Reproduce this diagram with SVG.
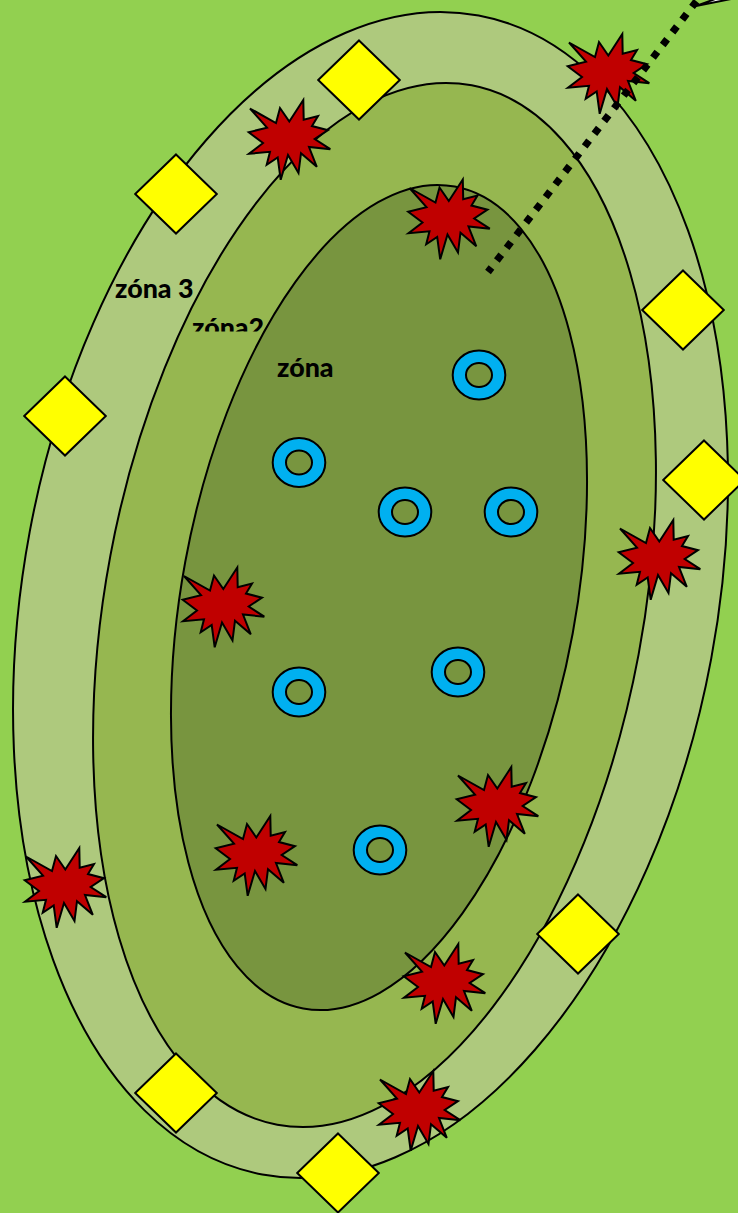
<svg xmlns="http://www.w3.org/2000/svg" width="738" height="1213" viewBox="0 0 738 1213">
<style>
.z{stroke:#000;stroke-width:2}
.star{fill:#C00000;stroke:#000;stroke-width:2;stroke-linejoin:miter}
.dia{fill:#FF0;stroke:#000;stroke-width:2}
.ring{fill:#00B0F0;fill-rule:evenodd;stroke:#000;stroke-width:2}
.t{font-family:Lato,"Open Sans",sans-serif;font-weight:900;font-size:26.800px;fill:#000}
</style>
<defs>
<polygon id="s" points="-39,-31 -13,-16.500 -9,-31.500 0.300,-18 14.300,-39.500 14.700,-19.700 29,-23.500 23,-13.500 39,-9.300 25.700,-0.500 41.300,9.700 20,7.500 27.800,27.300 12,13.700 9.500,33.500 -1,15.500 -8.300,40.300 -11.300,18 -22.300,25.300 -19,12.300 -40,14.300 -26,3.500 -40.300,-7.300 -22,-11.800"/>
<polygon id="d" points="0,-39.500 40.800,0 0,39.500 -40.800,0"/>
<path id="r" d="M-26.300,0a26.300,24.500 0 1,0 52.600,0a26.300,24.500 0 1,0 -52.600,0zM-13,0a13,12 0 1,0 26,0a13,12 0 1,0 -26,0z"/>
<clipPath id="c2"><rect x="150" y="300" width="150" height="31.500"/></clipPath>
</defs>
<rect width="738" height="1213" fill="#92D050"/>
<g id="zone3"><ellipse class="z" cx="370.500" cy="595" rx="346.600" ry="589.500" transform="rotate(10.570 370.500 595)" fill="#AEC97D"/></g>
<g id="zone2"><ellipse class="z" cx="374.500" cy="605" rx="268.700" ry="528.700" transform="rotate(10.600 374.500 605)" fill="#96B750"/></g>
<g id="zone1"><ellipse class="z" cx="379" cy="597.500" rx="197" ry="417.900" transform="rotate(10.450 379 597.500)" fill="#78953F"/></g>
<g id="label-zone3"><text class="t" x="115" y="298">zóna 3</text></g>
<g id="label-zone2"><text class="t" x="192" y="337" clip-path="url(#c2)">zóna2</text></g>
<g id="label-zone1"><text class="t" x="277" y="377">zóna</text></g>
<g id="stars">
<use href="#s" class="star" x="608" y="73.500"/>
<use href="#s" class="star" x="289" y="139.500"/>
<use href="#s" class="star" x="448.500" y="219"/>
<use href="#s" class="star" x="223" y="607"/>
<use href="#s" class="star" x="659" y="559.500"/>
<use href="#s" class="star" x="497" y="806.500"/>
<use href="#s" class="star" x="256" y="855.500"/>
<use href="#s" class="star" x="65" y="887.500"/>
<use href="#s" class="star" x="444" y="983.500"/>
<use href="#s" class="star" x="419" y="1110.500"/>
</g>
<g id="diamonds">
<use href="#d" class="dia" x="359" y="80"/>
<use href="#d" class="dia" x="176" y="194"/>
<use href="#d" class="dia" x="65" y="416"/>
<use href="#d" class="dia" x="683" y="310"/>
<use href="#d" class="dia" x="704" y="480"/>
<use href="#d" class="dia" x="578" y="934"/>
<use href="#d" class="dia" x="176" y="1093"/>
<use href="#d" class="dia" x="338" y="1173"/>
</g>
<g id="rings">
<use href="#r" class="ring" x="479" y="375"/>
<use href="#r" class="ring" x="299" y="462.500"/>
<use href="#r" class="ring" x="405" y="512"/>
<use href="#r" class="ring" x="511" y="512"/>
<use href="#r" class="ring" x="458" y="672"/>
<use href="#r" class="ring" x="299" y="692"/>
<use href="#r" class="ring" x="380" y="850"/>
</g>
<g id="connectors">
<line x1="696.400" y1="1.200" x2="488" y2="272" stroke="#000" stroke-width="7.200" stroke-dasharray="7.200 8.800"/>
<polygon points="696,6 718,-2 736,-2" fill="#fff" stroke="#000" stroke-width="2"/>
</g>
</svg>
